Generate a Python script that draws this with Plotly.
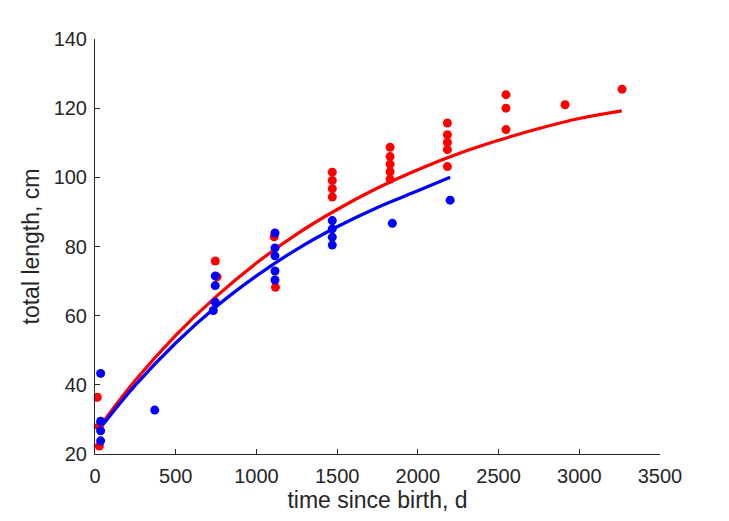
import plotly.graph_objects as go

# observed data (red group)
red_t = [14, 27, 25, 745, 756, 1110, 1118, 1470, 1470, 1470, 1470,
         1828, 1828, 1828, 1828, 1828, 2183, 2183, 2183, 2183, 2183,
         2546, 2546, 2546, 2912, 3265]
red_L = [36.4, 22.3, 28.0, 75.8, 71.2, 82.8, 68.2, 101.5, 99.1, 96.7, 94.3,
         108.7, 106.0, 103.8, 101.6, 99.5, 115.7, 112.3, 110.1, 108.0, 103.1,
         123.9, 120.0, 113.8, 121.0, 125.5]

# observed data (blue group)
blue_t = [35, 35, 35, 35, 370, 745, 745, 745, 733,
          1115, 1115, 1115, 1115, 1115, 1470, 1470, 1470, 1470, 1842, 2200]
blue_L = [43.3, 29.5, 26.7, 23.8, 32.7, 71.5, 68.7, 63.9, 61.5,
          83.9, 79.6, 77.3, 72.9, 70.3, 87.5, 85.1, 82.7, 80.4, 86.7, 93.4]

# fitted curves
red_fit_t = [41, 250, 500, 750, 1000, 1250, 1500, 1750, 2000, 2250, 2500, 2750, 3000, 3263]
red_fit_L = [28.7, 41.3, 54.3, 65.5, 75.2, 83.6, 90.7, 96.9, 102.2, 106.8, 110.7, 114.1, 117.0, 119.2]
blue_fit_t = [41, 250, 500, 750, 1000, 1250, 1500, 1750, 2000, 2200]
blue_fit_L = [28.0, 39.9, 52.1, 62.6, 71.5, 79.2, 85.7, 91.3, 96.1, 100.0]

x_ticks = [0, 500, 1000, 1500, 2000, 2500, 3000, 3500]
y_ticks = [20, 40, 60, 80, 100, 120, 140]

RED = "#FF0000"
BLUE = "#0000FF"
TXT = "#262626"
FONT = "Liberation Sans, Arial"

fig = go.Figure()
fig.add_trace(go.Scatter(x=red_fit_t, y=red_fit_L, mode="lines", line=dict(color=RED, width=3.2, shape="spline"), showlegend=False))
fig.add_trace(go.Scatter(x=blue_fit_t, y=blue_fit_L, mode="lines", line=dict(color=BLUE, width=3.2, shape="spline"), showlegend=False))
fig.add_trace(go.Scatter(x=red_t, y=red_L, mode="markers", marker=dict(color=RED, size=9), showlegend=False))
fig.add_trace(go.Scatter(x=blue_t, y=blue_L, mode="markers", marker=dict(color=BLUE, size=9), showlegend=False))

axis_common = dict(
    showline=True, linecolor=TXT, linewidth=1, mirror=False,
    ticks="inside", ticklen=5, tickcolor=TXT, tickwidth=1,
    showgrid=False, zeroline=False,
    tickfont=dict(family=FONT, size=20, color=TXT),
)

fig.update_layout(
    width=729, height=521,
    margin=dict(l=87, r=77, t=31, b=75),
    paper_bgcolor="white", plot_bgcolor="white",
    xaxis=dict(range=[0, 3500], tickvals=x_ticks, ticklabelstandoff=4,
               title=dict(text="time since birth, d", font=dict(family=FONT, size=23, color=TXT), standoff=4),
               **axis_common),
    yaxis=dict(range=[20, 140], tickvals=y_ticks, ticklabelstandoff=3,
               title=dict(text="total length, cm", font=dict(family=FONT, size=23, color=TXT), standoff=7),
               **axis_common),
)

fig.write_html("out.html")
